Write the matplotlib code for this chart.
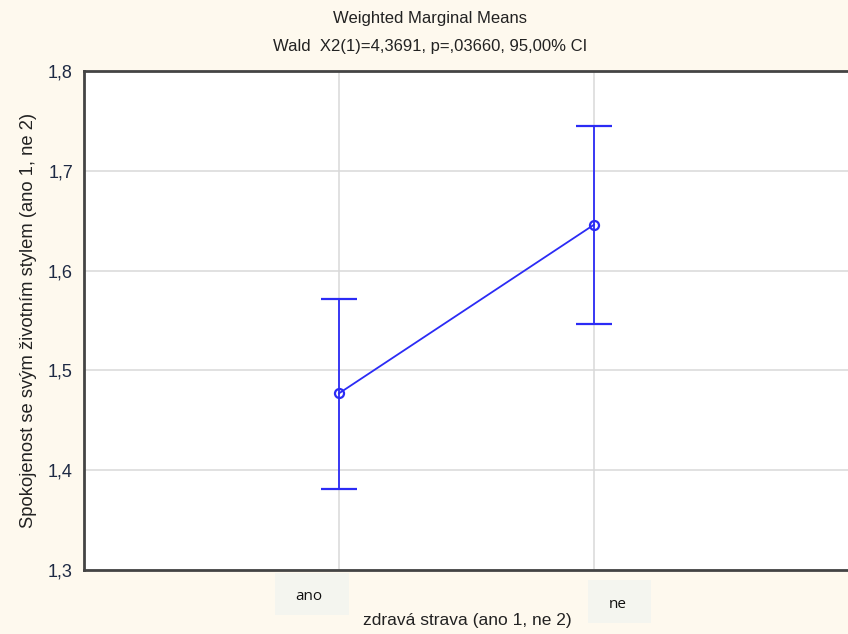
import matplotlib
matplotlib.use("Agg")
import matplotlib.pyplot as plt
from matplotlib import font_manager

categories = ["ano", "ne"]
means = [1.477, 1.646]
ci_low = [1.381, 1.546]
ci_high = [1.572, 1.745]
yticks = [1.3, 1.4, 1.5, 1.6, 1.7, 1.8]
ytick_labels = ["1,3", "1,4", "1,5", "1,6", "1,7", "1,8"]

names = {f.name for f in font_manager.fontManager.ttflist}
narrow = "Liberation Sans Narrow" if "Liberation Sans Narrow" in names else "Liberation Sans"
plt.rcParams['font.family'] = ['Liberation Sans', 'DejaVu Sans']

W, H = 848, 634
fig = plt.figure(figsize=(W / 100, H / 100), dpi=100, facecolor="#FEF9EE")
ax = fig.add_axes([84 / W, 1 - 570 / H, 765 / W, (570 - 71) / H])
ax.set_facecolor("white")

x = list(range(len(categories)))
yerr = [[m - l for m, l in zip(means, ci_low)], [h - m for m, h in zip(means, ci_high)]]
color = "#2B2BF5"
ax.errorbar(x, means, yerr=yerr, color=color, lw=1.3, elinewidth=1.3,
            capsize=13, capthick=1.3, marker="o", ms=6.5, mfc="none", mew=1.6, zorder=3)

ax.set_xlim(-1, 2)
ax.set_ylim(1.3, 1.8)
ax.set_yticks(yticks)
ax.set_yticklabels(ytick_labels, fontsize=13, color="#1E2A44")
ax.set_xticks(x)
ax.set_xticklabels([])
ax.grid(True, color="#D9D9D9", lw=1.1)
ax.set_axisbelow(True)
ax.tick_params(axis="both", length=0, pad=8)
for s in ["left", "top", "bottom"]:
    ax.spines[s].set_color("#444444")
    ax.spines[s].set_linewidth(2)
ax.spines["right"].set_visible(False)

# category labels in shaded boxes
box_specs = [(275, 573, 74, 42, 309, 597), (588, 580, 63, 43, 618, 604)]
for lab, (bx, by, bw, bh, tx, ty) in zip(categories, box_specs):
    fig.patches.append(plt.Rectangle((bx / W, 1 - (by + bh) / H), bw / W, bh / H,
                                     transform=fig.transFigure, facecolor="#F4F5EF",
                                     edgecolor="none", zorder=0))
    fig.text(tx / W, 1 - ty / H, lab, ha="center", va="center", fontsize=11,
             color="#111111", family="Open Sans")

fig.text(467 / W, 1 - 620 / H, "zdravá strava (ano 1, ne 2)", ha="center", va="center",
         fontsize=12.5, color="#222222")
fig.text(29 / W, 1 - 320 / H, "Spokojenost se svým životním stylem (ano 1, ne 2)",
         ha="center", va="center", rotation=90, fontsize=13.2, color="#222222")
fig.text(430 / W, 1 - 19 / H, "Weighted Marginal Means", ha="center", va="center",
         fontsize=12, color="#222222", family=[narrow, "DejaVu Sans"])
fig.text(430 / W, 1 - 46 / H, "Wald  X2(1)=4,3691, p=,03660, 95,00% CI", ha="center",
         va="center", fontsize=12, color="#222222", family=[narrow, "DejaVu Sans"])

fig.savefig("out.png", dpi=100, facecolor=fig.get_facecolor())
